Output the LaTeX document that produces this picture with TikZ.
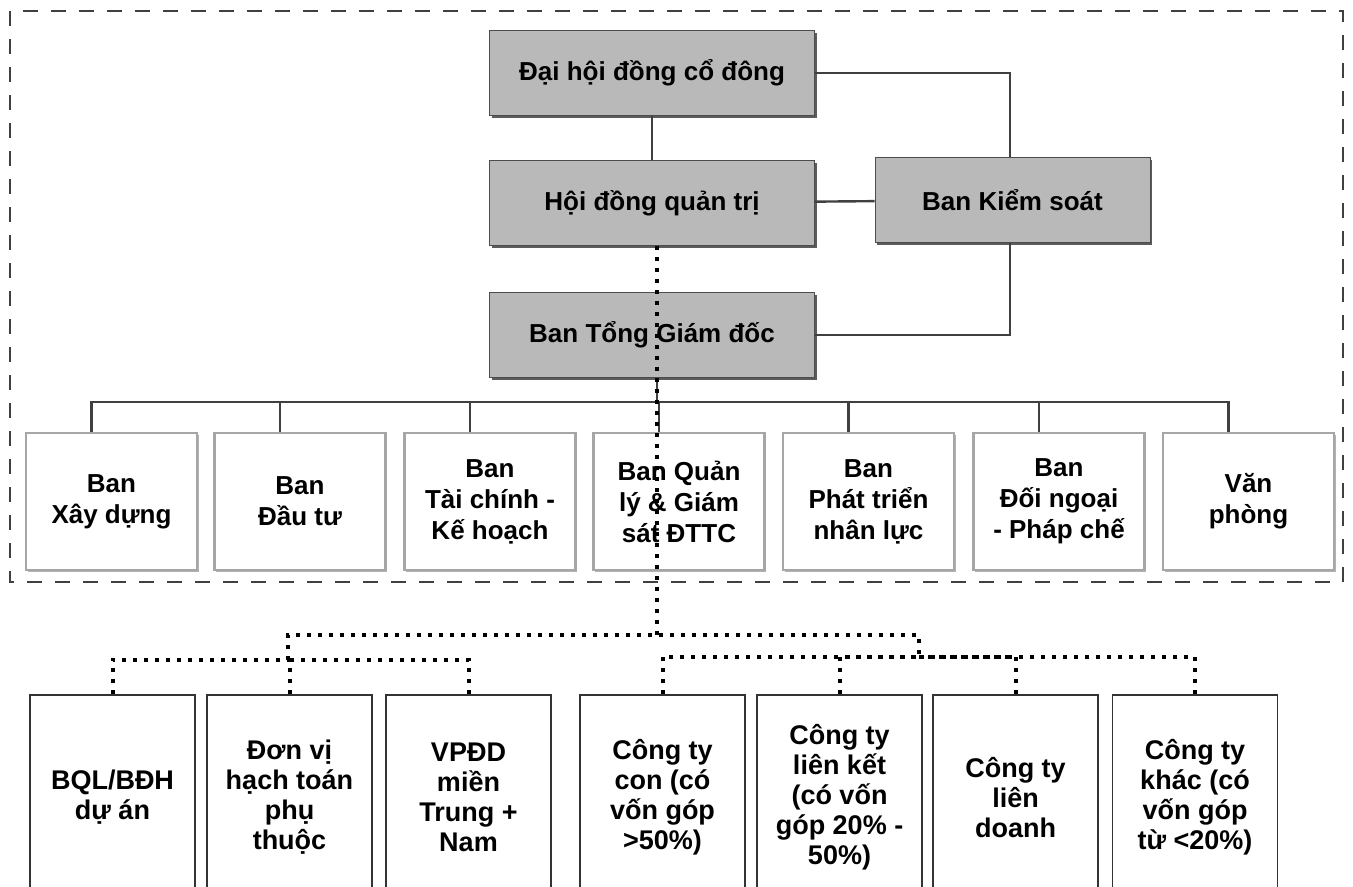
\documentclass[tikz,border=0pt]{standalone}
\usepackage{fontspec}
\setmainfont{Liberation Sans}
\usetikzlibrary{shadows}

\begin{document}
\begin{tikzpicture}[x=0.5pt,y=-0.5pt,
		topbox/.style={draw=gray!60!black,fill=gray!55,minimum width=162.5pt,minimum height=42.5pt,font=\fontsize{13}{15}\selectfont\bfseries,drop shadow={shadow xshift=1pt,shadow yshift=-1.2pt,opacity=0.8,fill=gray!40!black}},
		banbox/.style={draw=gray!70,line width=1.2pt,fill=white,minimum width=85.5pt,minimum height=68.5pt,align=center,font=\fontsize{13}{15.5}\selectfont\bfseries,drop shadow={shadow xshift=0.8pt,shadow yshift=-1pt,opacity=0.6,fill=gray}},
		unitbox/.style={draw=black!80,line width=0.8pt,fill=white,minimum width=82.5pt,minimum height=102.5pt,align=center,font=\fontsize{13.5}{15}\selectfont\bfseries},
		conn/.style={draw=black!75,line width=1.2pt},
		dotline/.style={line width=2pt,dash pattern=on 2pt off 3.5pt},
		frame/.style={draw=gray!50!black,line width=1pt,dash pattern=on 7.5pt off 6.5pt}]
			\path[use as bounding box,clip] (0,0) rectangle (1353,887);
			\draw[frame] (10,11) rectangle (1343,582);
			\node[topbox] (dhdcd) at (652,73) {Đại hội đồng cổ đông};
			\node[topbox] (hdqt) at (652,203) {Hội đồng quản trị};
			\node[topbox] (btgd) at (652,335) {Ban Tổng Giám đốc};
			\node[topbox,minimum width=137.5pt] (bks) at (1012.5,200) {Ban Kiểm soát};
			\coordinate (ksline) at (1010,200);
			\draw[conn] (dhdcd) -- (hdqt);
			\draw[conn] (hdqt) -- (bks);
			\draw[conn] (dhdcd.east) -| (bks.north -| ksline);
			\draw[conn] (bks.south -| ksline) |- (btgd.east);
			\node[banbox] (b1) at (111.5,501.5) {Ban\\Xây dựng};
			\node[banbox] (b2) at (300,501.5) {Ban\\Đầu tư};
			\node[banbox] (b3) at (490,501.5) {Ban\\Tài chính -\\Kế hoạch};
			\node[banbox] (b4) at (679,501.5) {Ban Quản\\lý \& Giám\\sát ĐTTC};
			\node[banbox] (b5) at (868.5,501.5) {Ban\\Phát triển\\nhân lực};
			\node[banbox] (b6) at (1059,501.5) {Ban\\Đối ngoại\\- Pháp chế};
			\node[banbox] (b7) at (1248.5,501.5) {Văn\\phòng};
			\coordinate (bus) at (657,402);
			\draw[conn] (btgd.south -| bus) -- (bus);
			\foreach \i in {1,...,7}
				\draw[conn] ([xshift=-10pt]b\i.north) |- (bus);
			\node[unitbox] (c1) at (112.5,797.5) {BQL/BĐH\\dự án};
			\node[unitbox] (c2) at (289.5,797.5) {Đơn vị\\hạch toán\\phụ\\thuộc};
			\node[unitbox] (c3) at (468.5,797.5) {VPĐD\\miền\\Trung +\\Nam};
			\node[unitbox] (c4) at (662.5,797.5) {Công ty\\con (có\\vốn góp\\>50\%)};
			\node[unitbox] (c5) at (839.5,797.5) {Công ty\\liên kết\\(có vốn\\góp 20\% -\\50\%)};
			\node[unitbox] (c6) at (1015.5,797.5) {Công ty\\liên\\doanh};
			\node[unitbox] (c7) at (1195,797.5) {Công ty\\khác (có\\vốn góp\\từ <20\%)};
			\coordinate (jt) at (657,635);
			\coordinate (jl) at (288,660);
			\coordinate (jr) at (919,657);
			\draw[dotline] (hdqt.south -| jt) -- (jt);
			\draw[dotline] (jl) |- (jt) -| (jr);
			\foreach \i in {1,2,3}
				\draw[dotline] (c\i.north) |- (jl);
			\foreach \i in {4,...,7}
				\draw[dotline] (c\i.north) |- (jr);
		\end{tikzpicture}
\end{document}
